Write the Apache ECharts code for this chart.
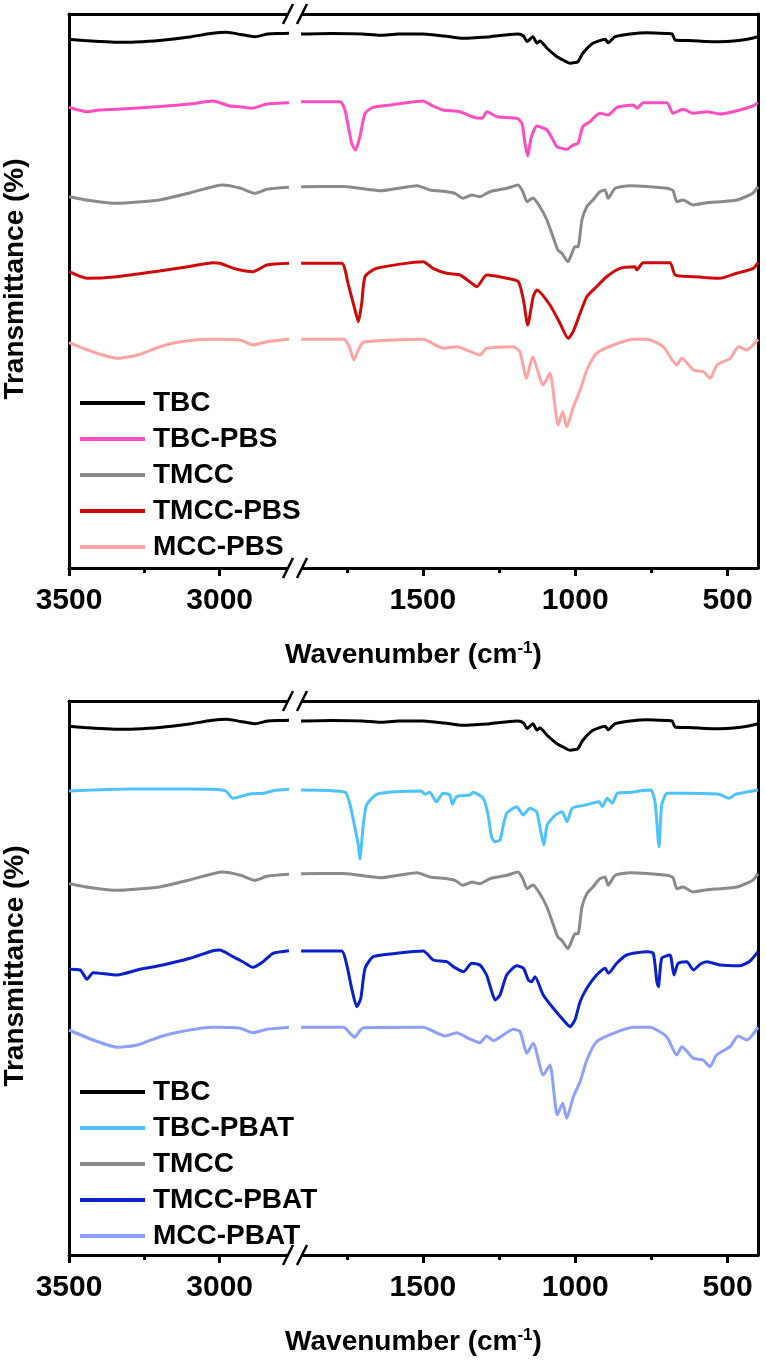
<!DOCTYPE html>
<html><head><meta charset="utf-8">
<script src="https://cdn.jsdelivr.net/npm/echarts@6.0.0/dist/echarts.min.js"></script>
<style>html,body{margin:0;padding:0;background:#fff}#c{width:766px;height:1363px}</style>
</head><body><div id="c"></div><script>
// ---------- data (wavenumber cm-1, transmittance in arbitrary offset units) ----------
const TBC_hi = [[3500,528.7],[3450,527.5],[3400,526.5],[3341,525.7],[3280,526],[3200,527.5],[3100,531],[3030,534.5],[2976,535.7],[2930,533.5],[2883,531.3],[2840,534],[2800,534.5],[2770,534.7]];
const TBC_lo = [[1900,534],[1800,534.5],[1700,534],[1641,532.7],[1580,534],[1500,534],[1430,532],[1368,529.7],[1320,530.5],[1280,531.3],[1230,533],[1188,534],[1170,532],[1158,526.5],[1139,531.3],[1126,525],[1116,527],[1090,519],[1060,511.3],[1040,508],[1017,504.7],[1000,505.5],[991,506.3],[975,514.7],[942,524.7],[902,528.7],[892,525.3],[869,531.3],[820,534],[764,535.3],[700,534.5],[682,534],[672,528],[640,527.5],[613,527.3],[570,526.5],[525,526.3],[480,527],[436,528.7],[400,531.3]];

const TBCPBS_hi = [[3500,460.7],[3440,456.3],[3400,458],[3341,458.7],[3200,461.5],[3100,464],[3022,467],[2966,462],[2932,461.3],[2893,459.7],[2843,464],[2770,465.3]];
const TBCPBS_lo = [[1900,466.3],[1772,466.3],[1756,458],[1734,424.7],[1721,418],[1707,431.3],[1690,454.7],[1664,460.7],[1608,463],[1500,467],[1467,462],[1434,458],[1378,456.3],[1339,451.3],[1306,449.7],[1290,456.3],[1257,451.3],[1191,449.7],[1175,444.7],[1165,424.7],[1156,412],[1145,430],[1126,442],[1093,438],[1073,428],[1060,421.3],[1027,418.7],[1007,423],[991,424.7],[975,441.3],[952,446.3],[919,454.7],[892,453],[863,460.7],[810,463],[797,459.7],[777,465.3],[699,465.3],[679,454.7],[646,458.7],[613,454.7],[567,456.3],[525,454],[469,457.3],[417,462],[400,465.3]];

const TMCC_hi = [[3500,371.3],[3420,367],[3341,364.7],[3200,368],[3100,375],[2990,383],[2930,379.7],[2883,374.7],[2843,378.7],[2770,380.7]];
const TMCC_lo = [[1900,381.3],[1760,381.5],[1641,377.3],[1519,382.3],[1477,378],[1421,376.3],[1395,374.7],[1368,369.7],[1339,373],[1313,371.3],[1280,376.3],[1224,379.7],[1188,383],[1172,376.3],[1158,366.3],[1139,370],[1116,361.3],[1093,348],[1073,331.3],[1057,318],[1044,314.7],[1024,306.3],[1011,314.7],[1001,321.3],[991,321.3],[978,348],[962,361.3],[942,368],[919,376.3],[902,378],[892,369.7],[869,379.7],[820,382.3],[699,379.7],[679,377.3],[666,366.3],[646,368],[613,363],[567,365.3],[525,366.3],[469,368],[417,374.7],[400,381.3]];

const TMCCPBS_hi = [[3500,296.3],[3440,289.7],[3341,291.3],[3200,297],[3100,301.5],[3022,305.3],[3000,304.7],[2943,298.7],[2890,296.3],[2843,303],[2770,304.7]];
const TMCCPBS_lo = [[1900,304.7],[1767,304.7],[1746,284.7],[1723,258],[1712,246.3],[1701,264.7],[1690,291.3],[1652,299.7],[1499,306.3],[1467,299.7],[1422,294.7],[1378,293],[1340,284.7],[1323,281.3],[1291,293],[1225,289.7],[1187,286.3],[1170,268],[1156,243],[1138,271.3],[1126,278],[1083,263],[1050,244.7],[1023,229.7],[1007,236.3],[984,254.7],[962,271.3],[930,281.3],[897,291.3],[853,299.7],[804,301.3],[798,298],[777,305.3],[689,305.3],[672,293],[612,291.3],[525,289.7],[470,294.7],[415,299.7],[400,305.3]];

const MCCPBS_hi = [[3500,225.3],[3420,216],[3338,209.7],[3272,213],[3198,221.3],[3131,226.3],[3022,228.7],[2932,228],[2890,223],[2843,226.3],[2770,228.7]];
const MCCPBS_lo = [[1900,228.7],[1760,228.7],[1740,220],[1727,208],[1712,218],[1695,226],[1500,228.7],[1433,219.7],[1390,221.3],[1313,213],[1291,219.7],[1204,221.3],[1182,216.3],[1160,189.7],[1140,211.3],[1105,183],[1083,194.7],[1056,143],[1041,156.3],[1028,141.3],[1006,161.3],[984,178],[962,198],[930,214.7],[875,223],[809,228.7],[765,228.7],[711,221.3],[667,203],[650,209.7],[612,198],[579,196.3],[557,189.7],[535,203],[491,209.7],[464,221.3],[437,218],[400,228.7]];

const TBCPBAT_hi = [[3500,464],[3300,466],[3100,466],[3022,465.7],[2980,464],[2956,456.7],[2900,461],[2856,461.7],[2823,464.3],[2770,465.7]];
const TBCPBAT_lo = [[1900,465],[1756,462.7],[1739,450],[1723,426.7],[1712,410],[1707,396],[1696,430],[1685,450],[1652,460.7],[1587,463.3],[1505,464],[1494,460.7],[1478,462.7],[1456,453.3],[1434,461.7],[1412,460],[1403,450.7],[1390,458.3],[1346,460],[1335,462.7],[1302,456.7],[1286,440],[1275,418.3],[1264,413.3],[1247,415],[1236,430],[1225,441.7],[1192,448.3],[1171,440],[1149,446.7],[1127,443.3],[1113,423.3],[1103,410],[1092,430],[1065,440],[1043,443.3],[1027,433.3],[1010,446.7],[966,450],[922,453.3],[911,448.3],[895,456.7],[878,451.7],[862,461.7],[813,462.7],[791,464],[752,465],[738,453.3],[725,408.3],[716,450],[698,461.7],[637,461.7],[528,460.7],[495,456.7],[473,460.7],[400,465]];

const TMCCPBAT_hi = [[3500,285.7],[3463,285],[3440,275.7],[3420,282.3],[3341,280],[3265,285.7],[3189,290],[3099,296.7],[3022,304.3],[3000,305],[2956,298.3],[2923,293.3],[2890,287.7],[2856,293.3],[2823,301.7],[2770,304.3]];
const TMCCPBAT_lo = [[1900,304],[1767,304],[1750,290],[1734,266.7],[1717,248.3],[1704,256.7],[1690,286.7],[1663,298.3],[1586,301.7],[1499,304],[1466,295],[1422,293.3],[1400,288.3],[1367,283.3],[1340,291.7],[1313,290],[1291,280],[1274,263.3],[1263,255],[1247,260],[1225,280],[1192,289.3],[1170,286.7],[1154,275],[1143,273.3],[1132,278.3],[1105,260],[1072,246.7],[1039,235],[1017,228.3],[1001,235],[984,253.3],[962,266.7],[930,280],[902,286.7],[891,281.7],[864,291.7],[831,300],[765,303.3],[744,301.7],[732,273.3],[727,268.3],[716,296.7],[689,300],[676,280],[662,291.7],[634,293.3],[612,285],[590,290.7],[568,293.3],[525,290],[459,289.3],[426,294],[400,303.3]];

const MCCPBAT_hi = [[3500,225],[3420,215],[3338,207.7],[3272,210],[3198,218.3],[3131,223.3],[3022,227.7],[2932,226.7],[2890,222.3],[2843,225.7],[2770,227.7]];
const MCCPBAT_lo = [[1900,227.7],[1760,227.7],[1740,222],[1724,217.7],[1708,224],[1695,227.3],[1500,227.7],[1428,219],[1389,222.3],[1351,216.7],[1313,212.3],[1291,219],[1269,214.3],[1203,225.7],[1181,223.3],[1159,201.7],[1138,211.7],[1105,180],[1083,190],[1059,140],[1041,151.7],[1028,136.7],[1006,158.3],[984,173.3],[962,195],[930,213.3],[875,221.7],[809,227.7],[755,227.7],[700,218.3],[667,200],[650,208.3],[612,196.7],[580,195],[558,188.3],[536,200],[492,208.3],[465,219],[437,215],[400,227.7]];

const namesPBS = ['TBC','TBC-PBS','TMCC','TMCC-PBS','MCC-PBS'];
const namesPBAT = ['TBC','TBC-PBAT','TMCC','TMCC-PBAT','MCC-PBAT'];
const colorsPBS = ['#000000','#FF4DC2','#8A8A8A','#D00A0A','#FFA3A3'];
const colorsPBAT = ['#000000','#4EC2FF','#8A8A8A','#0A20C8','#8E9FFF'];
const xMajorHi = [3500,3000], xMinorHi = [3250];
const xMajorLo = [1500,1000,500], xMinorLo = [1750,1250,750];
const xRangeHi = [2750,3500], xRangeLo = [400,1920];
const yRange = [0,554];

// ---------- layout ----------
const FONT = '"Liberation Sans", Arial, sans-serif';
const LEFT = 69, RIGHT = 8, SPLIT = 295, H = 554;
const panels = [
  {top:14, names:namesPBS, colors:colorsPBS, hi:[TBC_hi,TBCPBS_hi,TMCC_hi,TMCCPBS_hi,MCCPBS_hi], lo:[TBC_lo,TBCPBS_lo,TMCC_lo,TMCCPBS_lo,MCCPBS_lo], legendTop:389},
  {top:701, names:namesPBAT, colors:colorsPBAT, hi:[TBC_hi,TBCPBAT_hi,TMCC_hi,TMCCPBAT_hi,MCCPBAT_hi], lo:[TBC_lo,TBCPBAT_lo,TMCC_lo,TMCCPBAT_lo,MCCPBAT_lo], legendTop:1078}
];
const grid=[], xAxis=[], yAxis=[], series=[], legend=[], elements=[];
const lineSt = {color:'#000', width:3};
const frameAxis = (gi, pos, extra) => Object.assign({gridIndex:gi, type:'value', min:0, max:1, position:pos,
  axisLine:{show:true, onZero:false, lineStyle:lineSt}, axisTick:{show:false}, axisLabel:{show:false}, splitLine:{show:false}}, extra||{});
const tickAxis = (gi, range, major, minor, isMajor) => ({gridIndex:gi, type:'value', min:range[0], max:range[1], inverse:true, position:'bottom',
  axisLine:{show:false, onZero:false},
  axisTick:{show:true, inside:false, customValues: isMajor?major:minor, length: isMajor?8:5, lineStyle:{color:'#000', width:3}},
  axisLabel: isMajor ? {show:true, customValues:major, margin:18, fontSize:30, fontWeight:'bold', color:'#000', fontFamily:FONT,
    formatter: v => String(v)} : {show:false},
  splitLine:{show:false}});

panels.forEach(p => {
  const gF = grid.length;
  const gopt = {top:p.top, height:H, outerBoundsMode:'none', containLabel:false};
  grid.push(Object.assign({left:LEFT, right:RIGHT}, gopt));
  grid.push(Object.assign({left:LEFT, width:SPLIT-LEFT}, gopt));
  grid.push(Object.assign({left:SPLIT, right:RIGHT}, gopt));
  const gL = gF+1, gR = gF+2;
  xAxis.push(frameAxis(gF,'bottom',{name:'Wavenumber (cm{s|-1})', nameLocation:'middle', nameGap:72,
    nameTextStyle:{fontSize:28, fontWeight:'bold', color:'#000', fontFamily:FONT, lineHeight:30,
      rich:{s:{fontSize:17, fontWeight:'bold', color:'#000', fontFamily:FONT, verticalAlign:'top', lineHeight:30}}}}));
  xAxis.push(frameAxis(gF,'top'));
  yAxis.push(frameAxis(gF,'left',{name:'Transmittance (%)', nameLocation:'middle', nameRotate:90, nameGap:40,
    nameTextStyle:{fontSize:28, fontWeight:'bold', color:'#000', fontFamily:FONT, padding:[0,0,0,24]}}));
  yAxis.push(frameAxis(gF,'right'));
  const xiL = xAxis.length; xAxis.push(tickAxis(gL, xRangeHi, xMajorHi, xMinorHi, true));
  xAxis.push(tickAxis(gL, xRangeHi, xMajorHi, xMinorHi, false));
  const xiR = xAxis.length; xAxis.push(tickAxis(gR, xRangeLo, xMajorLo, xMinorLo, true));
  xAxis.push(tickAxis(gR, xRangeLo, xMajorLo, xMinorLo, false));
  const yiL = yAxis.length; yAxis.push({gridIndex:gL, type:'value', min:yRange[0], max:yRange[1], show:false});
  const yiR = yAxis.length; yAxis.push({gridIndex:gR, type:'value', min:yRange[0], max:yRange[1], show:false});
  p.names.forEach((n,i) => {
    const base = {type:'line', name:n, color:p.colors[i], showSymbol:false, symbol:'none', smooth:0.2,
      lineStyle:{width:3, color:p.colors[i]}, itemStyle:{color:p.colors[i]}, animation:false, silent:true};
    series.push(Object.assign({}, base, {xAxisIndex:xiL, yAxisIndex:yiL, data:p.hi[i]}));
    series.push(Object.assign({}, base, {xAxisIndex:xiR, yAxisIndex:yiR, data:p.lo[i]}));
  });
  legend.push({data:p.names, orient:'vertical', left:80, top:p.legendTop, padding:0, itemWidth:65, itemHeight:4,
    itemGap:8, icon:'rect', selectedMode:false,
    textStyle:{fontSize:28, fontWeight:'bold', color:'#000', fontFamily:FONT, lineHeight:28, padding:[0,0,0,3]}});
  // axis-break marks on the top and bottom frame lines
  [p.top, p.top+H].forEach(yl => {
    elements.push({type:'rect', z:100, shape:{x:288, y:yl-3, width:14, height:6}, style:{fill:'#fff'}});
    elements.push({type:'line', z:101, shape:{x1:283, y1:yl+10, x2:293, y2:yl-10}, style:{stroke:'#000', lineWidth:2.5}});
    elements.push({type:'line', z:101, shape:{x1:297, y1:yl+10, x2:307, y2:yl-10}, style:{stroke:'#000', lineWidth:2.5}});
  });
});

const chart = echarts.init(document.getElementById('c'));
chart.setOption({backgroundColor:'#fff', animation:false, grid, xAxis, yAxis, series, legend, graphic:{elements}});
</script></body></html>
